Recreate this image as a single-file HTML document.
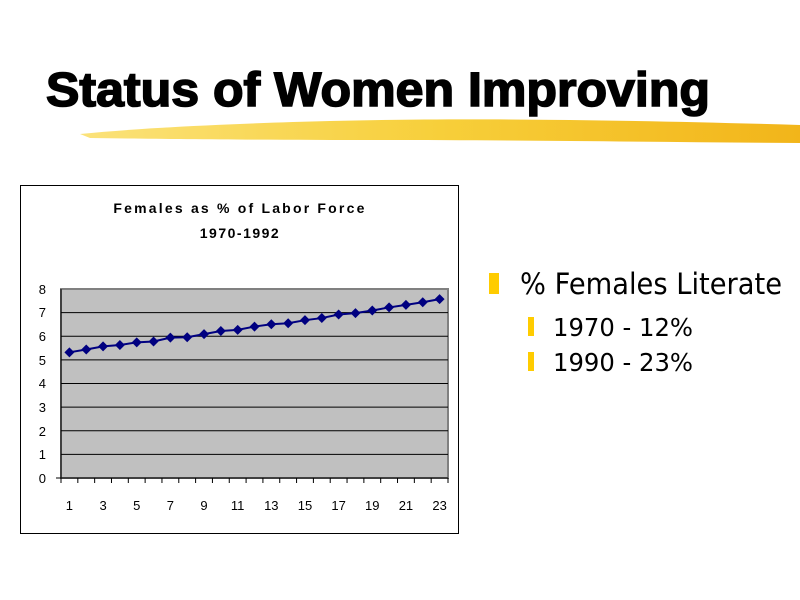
<!DOCTYPE html>
<html><head><meta charset="utf-8"><style>html,body{margin:0;padding:0;background:#fff}svg{display:block}</style></head>
<body>
<svg width="800" height="600" viewBox="0 0 800 600" xmlns="http://www.w3.org/2000/svg" font-family="Liberation Sans, Arial, sans-serif">
<defs>
<linearGradient id="g" x1="0" y1="0" x2="1" y2="0">
<stop offset="0" stop-color="#fbe27a"/><stop offset="0.5" stop-color="#f7cf3a"/><stop offset="1" stop-color="#f2b51a"/>
</linearGradient>
</defs>
<text x="46" y="106" font-size="48" font-weight="bold" stroke="#000" stroke-width="1.6" textLength="664" lengthAdjust="spacingAndGlyphs">Status of Women Improving</text>
<path d="M80,134 C150,127 250,123 330,121 C450,118 600,119 800,125 L800,143 C650,142 500,140 380,140 C260,140 160,139 90,138 Z" fill="url(#g)"/>
<rect x="20.5" y="185.5" width="438" height="348" fill="#fff" stroke="#000"/>
<text x="240" y="213" font-size="14" font-weight="bold" text-anchor="middle" letter-spacing="2.2">Females as % of Labor Force</text>
<text x="240" y="238" font-size="14" font-weight="bold" text-anchor="middle" letter-spacing="1.5">1970-1992</text>
<rect x="61" y="289" width="387" height="189" fill="#c0c0c0" stroke="#808080" stroke-width="2"/>
<g stroke="#000" stroke-width="1">
<line x1="61" y1="312.6" x2="448" y2="312.6"/><line x1="61" y1="336.3" x2="448" y2="336.3"/>
<line x1="61" y1="359.9" x2="448" y2="359.9"/><line x1="61" y1="383.5" x2="448" y2="383.5"/>
<line x1="61" y1="407.1" x2="448" y2="407.1"/><line x1="61" y1="430.8" x2="448" y2="430.8"/>
<line x1="61" y1="454.4" x2="448" y2="454.4"/>
<line x1="61" y1="289" x2="61" y2="478"/><line x1="56" y1="478" x2="448" y2="478"/>
</g>
<g font-size="13" text-anchor="end">
<text x="46" y="483">0</text><text x="46" y="459">1</text><text x="46" y="436">2</text><text x="46" y="412">3</text><text x="46" y="388">4</text><text x="46" y="365">5</text><text x="46" y="341">6</text><text x="46" y="317">7</text><text x="46" y="294">8</text>
</g>
<g id="ticks" stroke="#000"></g>
<g id="xl" font-size="13" text-anchor="middle"></g>
<polyline id="ln" fill="none" stroke="#000080" stroke-width="2"/>
<g id="mk" fill="#000080"></g>
<rect x="489" y="273" width="10" height="21" fill="#ffcc00"/>
<text x="520" y="294" font-size="29" font-family="DejaVu Sans, sans-serif" textLength="262" lengthAdjust="spacingAndGlyphs">% Females Literate</text>
<rect x="528" y="317" width="6" height="19" fill="#ffcc00"/>
<text x="553" y="336" font-size="25" font-family="DejaVu Sans, sans-serif" textLength="140" lengthAdjust="spacingAndGlyphs">1970 - 12%</text>
<rect x="528" y="352" width="6" height="19" fill="#ffcc00"/>
<text x="553" y="371" font-size="25" font-family="DejaVu Sans, sans-serif" textLength="140" lengthAdjust="spacingAndGlyphs">1990 - 23%</text>
<script>
var v=[5.32,5.44,5.57,5.63,5.74,5.78,5.94,5.96,6.09,6.22,6.27,6.41,6.51,6.55,6.68,6.77,6.92,6.98,7.09,7.22,7.33,7.44,7.57];
var NS="http://www.w3.org/2000/svg",pts=[],mk=document.getElementById('mk'),tk=document.getElementById('ticks'),xl=document.getElementById('xl');
var w=387/23;
for(var i=0;i<=23;i++){var l=document.createElementNS(NS,'line');var x=61+i*w;l.setAttribute('x1',x);l.setAttribute('x2',x);l.setAttribute('y1',478);l.setAttribute('y2',483);tk.appendChild(l);}
v.forEach(function(d,i){var x=61+(i+0.5)*w,y=478-d*189/8;pts.push(x+','+y);
var p=document.createElementNS(NS,'polygon');p.setAttribute('points',(x)+','+(y-5)+' '+(x+5)+','+y+' '+x+','+(y+5)+' '+(x-5)+','+y);mk.appendChild(p);
if(i%2==0){var t=document.createElementNS(NS,'text');t.setAttribute('x',x);t.setAttribute('y',510);t.textContent=i+1;xl.appendChild(t);}});
document.getElementById('ln').setAttribute('points',pts.join(' '));
</script>
</svg>
</body></html>
